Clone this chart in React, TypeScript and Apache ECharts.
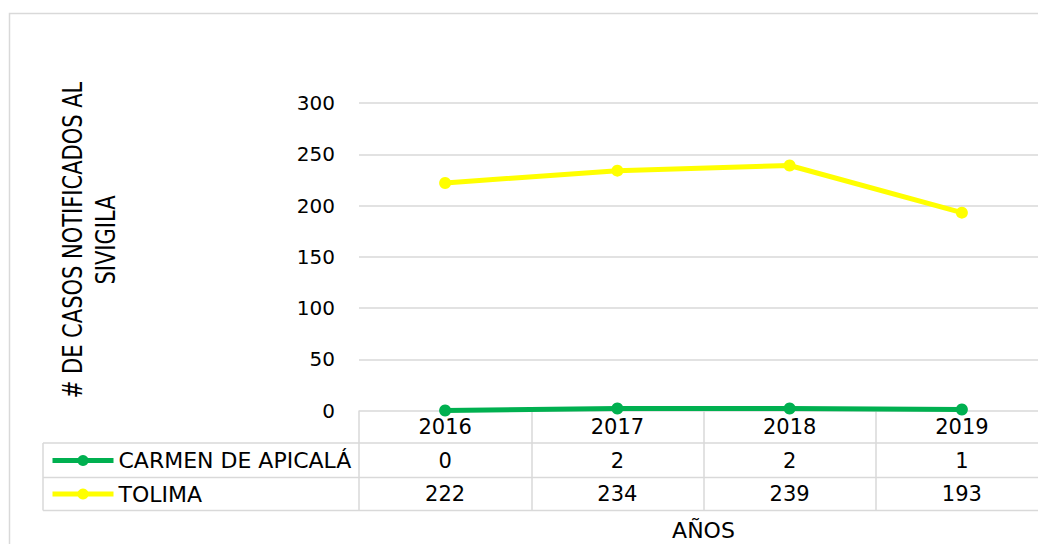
import React, { useEffect, useRef } from "react";
import * as echarts from "echarts";

const years = ["2016", "2017", "2018", "2019"];
const seriesNames = ["CARMEN DE APICALÁ", "TOLIMA"];
const carmen = [0, 2, 2, 1];
const tolima = [222, 234, 239, 193];
const yMin = 0;
const yMax = 300;
const yStep = 50;
const yTitle = "# DE CASOS NOTIFICADOS AL\nSIVIGILA";
const xTitle = "AÑOS";

const FONT = "DejaVu Sans";
const GRID_COLOR = "#d9d9d9";

export default function App() {
  const ref = useRef<HTMLDivElement>(null);

  useEffect(() => {
    if (!ref.current) return;
    const chart = echarts.init(ref.current, null, { renderer: "svg" });

    const gridLeft = 359;
    const gridTop = 103;
    const gridWidth = 689;
    const gridHeight = 307.5;
    const axisY = gridTop + gridHeight;
    const rowLines = [443, 477.5, 510.5];

    const tableLines: any[] = rowLines.map((y) => ({
      type: "line",
      shape: { x1: 43, y1: y, x2: gridLeft + gridWidth, y2: y },
      style: { stroke: GRID_COLOR, lineWidth: 1.5 },
      silent: true,
    }));
    tableLines.push({
      type: "line",
      shape: { x1: 43, y1: rowLines[0], x2: 43, y2: rowLines[2] },
      style: { stroke: GRID_COLOR, lineWidth: 1.5 },
      silent: true,
    });

    const valueAxisLabel = (arr: number[]) => ({
      fontFamily: FONT,
      fontSize: 21,
      color: "#000",
      lineHeight: 24,
      margin: 4,
      interval: 0,
      formatter: (_v: string, i: number) => String(arr[i]),
    });

    chart.setOption({
      animation: false,
      backgroundColor: "#fff",
      grid: {
        left: gridLeft,
        top: gridTop,
        width: gridWidth,
        height: gridHeight,
        containLabel: false,
        outerBoundsMode: "none",
      },
      legend: {
        data: seriesNames,
        orient: "vertical",
        left: 50,
        top: 448.5,
        padding: 0,
        itemWidth: 61,
        itemHeight: 14,
        itemGap: 9.5,
        selectedMode: false,
        lineStyle: { width: 5 },
        textStyle: { fontFamily: FONT, fontSize: 22, color: "#000", lineHeight: 24 },
      },
      xAxis: [
        {
          type: "category",
          data: years,
          position: "bottom",
          boundaryGap: true,
          axisLine: { show: false },
          axisTick: {
            show: true,
            interval: 0,
            length: rowLines[2] - axisY,
            lineStyle: { color: GRID_COLOR, width: 1.5 },
          },
          axisLabel: {
            fontFamily: FONT,
            fontSize: 21,
            color: "#000",
            lineHeight: 24,
            margin: 4,
            interval: 0,
          },
          splitLine: { show: false },
        },
        {
          type: "category",
          data: years,
          position: "bottom",
          offset: 34,
          axisLine: { show: false },
          axisTick: { show: false },
          axisLabel: valueAxisLabel(carmen),
          splitLine: { show: false },
        },
        {
          type: "category",
          data: years,
          position: "bottom",
          offset: 67.5,
          axisLine: { show: false },
          axisTick: { show: false },
          axisLabel: valueAxisLabel(tolima),
          splitLine: { show: false },
        },
      ],
      yAxis: {
        type: "value",
        min: yMin,
        max: yMax,
        interval: yStep,
        axisLine: { show: false },
        axisTick: { show: false },
        axisLabel: { fontFamily: FONT, fontSize: 20, color: "#000", margin: 24 },
        splitLine: { show: true, lineStyle: { color: GRID_COLOR, width: 1.5 } },
      },
      series: [
        {
          name: seriesNames[0],
          type: "line",
          data: carmen,
          symbol: "circle",
          symbolSize: 12,
          lineStyle: { color: "#00B050", width: 5 },
          itemStyle: { color: "#00B050" },
          z: 3,
        },
        {
          name: seriesNames[1],
          type: "line",
          data: tolima,
          symbol: "circle",
          symbolSize: 12,
          lineStyle: { color: "#FFFF00", width: 5 },
          itemStyle: { color: "#FFFF00" },
          z: 2,
        },
      ],
      graphic: [
        {
          type: "rect",
          shape: { x: 9.5, y: 13.5, width: 1200, height: 700 },
          style: { fill: "none", stroke: GRID_COLOR, lineWidth: 1.5 },
          silent: true,
          z: -10,
        },
        ...tableLines,
        {
          type: "text",
          x: 88.5,
          y: 240,
          rotation: Math.PI / 2,
          scaleY: 1.3,
          style: {
            text: yTitle,
            fontFamily: FONT,
            fontSize: 21,
            lineHeight: 25.4,
            fill: "#000",
            align: "center",
            verticalAlign: "middle",
          },
          silent: true,
        },
        {
          type: "text",
          x: gridLeft + gridWidth / 2,
          y: 530,
          style: {
            text: xTitle,
            fontFamily: FONT,
            fontSize: 22,
            fill: "#000",
            align: "center",
            verticalAlign: "middle",
          },
          silent: true,
        },
      ],
    });

    return () => chart.dispose();
  }, []);

  return (
    <div
      ref={ref}
      style={{ position: "absolute", left: 0, top: 0, width: 1038, height: 544 }}
    />
  );
}
